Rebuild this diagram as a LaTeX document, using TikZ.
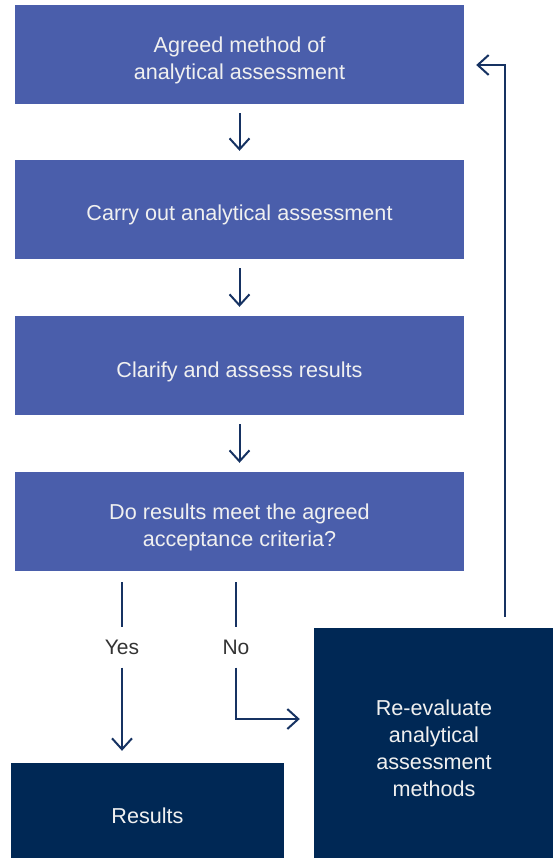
\documentclass[tikz,border=0pt]{standalone}
\usepackage{fontspec}
\setmainfont{Liberation Sans}
\usetikzlibrary{arrows.meta}
\definecolor{boxblue}{RGB}{74,94,171}
\definecolor{boxnavy}{RGB}{0,40,85}
\definecolor{linenavy}{RGB}{22,50,98}
\definecolor{labelgrey}{RGB}{51,51,51}
\tikzstyle{stepbox} = [shape=rectangle, fill=boxblue, text=white!94!black, minimum width=449pt, minimum height=99pt, align=center, font={\fontsize{21.6}{27}\selectfont}, inner sep=0pt, text height=28pt, text depth=5pt]
\tikzstyle{endbox} = [shape=rectangle, fill=boxnavy, text=white!94!black, align=center, font={\fontsize{21.6}{27}\selectfont}, inner sep=0pt, text height=28pt, text depth=5pt]
\tikzstyle{flow} = [draw=linenavy, line width=2pt, -{Straight Barb[length=11pt,width=20pt,line width=2pt]}]
\tikzstyle{plain} = [draw=linenavy, line width=2pt]
\tikzstyle{answer} = [text=labelgrey, font={\fontsize{21}{24}\selectfont}, minimum height=40pt, inner sep=0pt]

\begin{document}
\begin{tikzpicture}[x=1pt,y=-1pt]
\useasboundingbox (0,0) rectangle (553,858);

\node[stepbox, text height=55pt] (b1) at (239.5,54.5) {Agreed method of\\analytical assessment};
\node[stepbox] (b2) at (239.5,209.5) {Carry out analytical assessment};
\node[stepbox] (b3) at (239.5,365.5) {Clarify and assess results};
\node[stepbox, text height=55pt] (b4) at (239.5,521.5) {Do results meet the agreed\\acceptance criteria?};

\node[endbox, minimum width=273pt, minimum height=98pt] (b5) at (147.5,812) {Results};
\node[endbox, minimum width=240pt, minimum height=240pt, text height=102.5pt] (b6) at (434,748) {Re-evaluate\\analytical\\assessment\\methods};

\node[answer] (yes) at (122,647.5) {Yes};
\node[answer] (no) at (236,647.5) {No};
\coordinate (c1) at (236,719);
\coordinate (c2) at (505,65);

\draw[flow, shorten <=9pt, shorten >=9pt] (b1) -- (b2);
\draw[flow, shorten <=9pt, shorten >=9pt] (b2) -- (b3);
\draw[flow, shorten <=9pt, shorten >=9pt] (b3) -- (b4);

\draw[plain, shorten <=11pt] (b4.south -| yes) -- (yes);
\draw[flow, shorten >=12pt] (yes) -- (yes |- b5.north);
\draw[plain, shorten <=11pt] (b4.south -| no) -- (no);
\draw[flow, shorten >=14pt] (no) -- (c1) -- (c1 -| b6.west);
\draw[flow, shorten <=11pt, shorten >=12pt] (b6.north -| c2) -- (c2) -- (c2 -| b1.east);
\end{tikzpicture}
\end{document}
